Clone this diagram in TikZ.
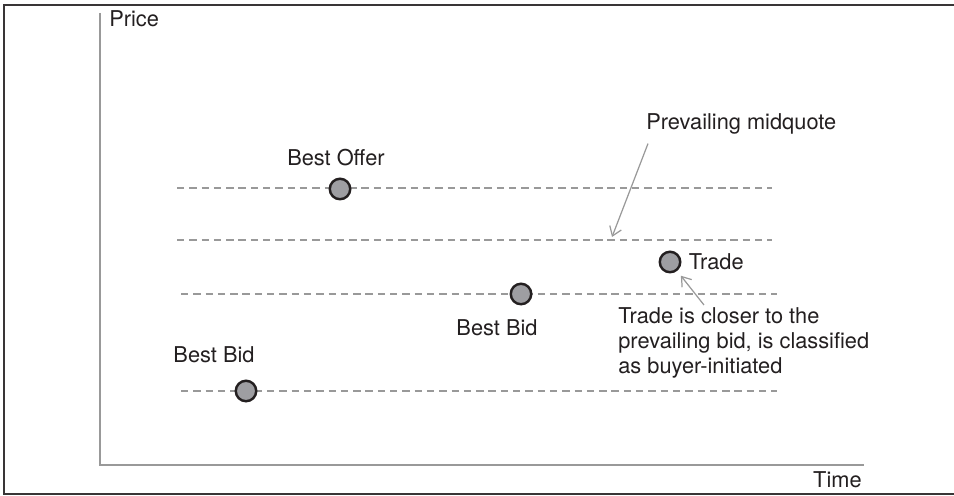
\documentclass[tikz,border=0pt]{standalone}
\usepackage{fontspec}
\setmainfont{TeX Gyre Heros}
\usetikzlibrary{arrows.meta, positioning}
\definecolor{ink}{HTML}{231F20}
\definecolor{quotegray}{HTML}{999999}
\definecolor{dotgray}{HTML}{9E9EA2}
\tikzset{
  frame/.style={draw=ink!90, line width=1.2pt},
  axis/.style={draw=quotegray, line width=0.9pt},
  quote/.style={draw=quotegray, line width=1.1pt, dash pattern=on 4.2pt off 2.8pt},
  dot/.style={circle, draw=ink, fill=dotgray, line width=1.4pt,
              minimum size=0.41cm, inner sep=0pt},
  lbl/.style={inner sep=0pt, text=ink, font=\fontsize{12.4}{14.4}\selectfont},
  note/.style={lbl, align=left},
  callout/.style={-{Straight Barb[length=5pt, width=7pt]}, draw=quotegray, line width=0.7pt},
}

\begin{document}
\begin{tikzpicture}[x=0.02cm, y=-0.02cm]

  \useasboundingbox (0,0) rectangle (954,496);

  % =====================================================
  % FRAME AND AXES
  % =====================================================

  \draw[frame] (954,5) -| (4,494) -- (954,494);

  \coordinate (ytop) at (100,13);
  \coordinate (xend) at (864,465);

  \draw[axis] (ytop) |- (xend);

  \node[lbl, anchor=base west] (price) at (109,27) {Price};
  \node[lbl, anchor=base east] (time) at (862,488) {Time};


  % =====================================================
  % QUOTE LEVELS
  % =====================================================

  \draw[quote] (177,188) -- (772,188);
  \draw[quote] (177,240) -- (772,240);
  \draw[quote] (181,294) -- (777,294);
  \draw[quote] (181,391) -- (777,391);


  % =====================================================
  % QUOTES AND TRADE
  % =====================================================

  \node[dot] (offer) at (340,189) {};
  \node[dot] (bidnew) at (521,294) {};
  \node[dot] (bidold) at (246,391) {};
  \node[dot] (trade) at (670,262) {};

  \node[lbl, above=0.22cm of offer, xshift=-0.08cm]
    (offerlbl) {Best Offer};

  \node[lbl, below=0.28cm of bidnew, xshift=-0.48cm]
    (bidnewlbl) {Best Bid};

  \node[lbl, above=0.32cm of bidold, xshift=-0.64cm]
    (bidoldlbl) {Best Bid};

  \node[lbl, right=0.14cm of trade]
    (tradelbl) {Trade};


  % =====================================================
  % CALLOUTS
  % =====================================================

  \node[lbl, anchor=base west] (midlbl) at (646,130) {Prevailing midquote};

  \coordinate (midtip) at (612,237);

  \draw[callout]
    ([xshift=0.04cm, yshift=-0.17cm]midlbl.south west) -- (midtip);

  \node[note, anchor=north west] (note) at (618,307)
    {Trade is closer to the\\prevailing bid, is classified\\as buyer-initiated};

  \draw[callout, shorten >=0.12cm]
    ([xshift=1.72cm, yshift=0.04cm]note.north west) -- (trade);

\end{tikzpicture}
\end{document}
